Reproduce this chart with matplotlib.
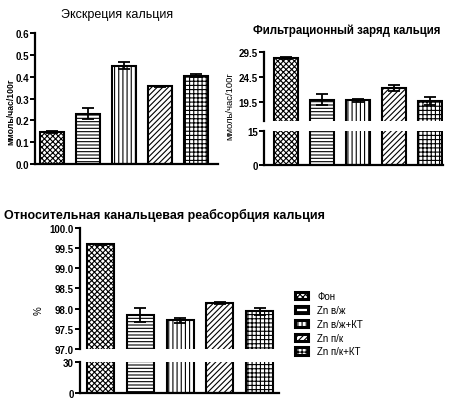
import numpy as np
import matplotlib
matplotlib.use("Agg")
import matplotlib.pyplot as plt
from matplotlib.patches import Patch

plt.rcParams['font.family'] = ['Liberation Sans', 'DejaVu Sans']
plt.rcParams['hatch.linewidth'] = 0.8

groups = ["Фон", "Zn в/ж", "Zn в/ж+КТ", "Zn п/к", "Zn п/к+КТ"]
hatches = ['xxxxxx', '-----', '||||', '//////', '++++']

# Экскреция кальция
excr = [0.145, 0.23, 0.45, 0.355, 0.405]
excr_err = [0.004, 0.025, 0.015, 0.004, 0.007]

# Фильтрационный заряд кальция
filt = [28.4, 20.0, 19.9, 22.4, 19.8]
filt_err = [0.2, 1.1, 0.3, 0.6, 0.8]

# Относительная канальцевая реабсорбция
reab = [99.6, 97.85, 97.71, 98.14, 97.93]
reab_err = [0.01, 0.17, 0.06, 0.02, 0.09]

W, H = 450, 402
fig = plt.figure(figsize=(4.5, 4.02), dpi=100)

def ax_px(l, t, r, b):
    return fig.add_axes([l / W, 1 - b / H, (r - l) / W, (b - t) / H])

def style(ax, bottom=True):
    for s in ['top', 'right']:
        ax.spines[s].set_visible(False)
    ax.spines['left'].set_linewidth(1.6)
    ax.spines['bottom'].set_linewidth(1.6)
    if not bottom:
        ax.spines['bottom'].set_visible(False)
    ax.set_xticks([])
    ax.tick_params(axis='y', direction='out', length=3.5, width=1.4, labelsize=7, pad=1)
    for lab in ax.get_yticklabels():
        lab.set_fontweight('bold')

def bars(ax, vals, errs=None, width=0.68):
    x = np.arange(len(vals))
    for i in range(len(vals)):
        ax.bar(x[i], vals[i], width=width, color='white', edgecolor='black',
               hatch=hatches[i], linewidth=1.5)
    if errs is not None:
        ax.errorbar(x, vals, yerr=errs, fmt='none', ecolor='black',
                    elinewidth=1.3, capsize=4.5, capthick=1.3)

# chart 1
ax1 = ax_px(35, 34, 218, 165)
bars(ax1, excr, excr_err, width=0.67)
ax1.set_ylim(0, 0.6)
ax1.set_yticks(np.arange(0, 0.61, 0.1))
ax1.set_yticklabels(['%.1f' % v for v in np.arange(0, 0.61, 0.1)])
ax1.set_xlim(-0.47, 4.61)
style(ax1)
fig.text(117 / W, 1 - 15 / H, "Экскреция кальция", ha='center', va='center', fontsize=9)
fig.text(11 / W, 1 - 112 / H, "ммоль/час/100г", rotation=90, ha='center', va='center',
         fontsize=6.2, fontweight='bold')

# chart 2 (broken axis)
ax2t = ax_px(264, 53, 443, 122)
bars(ax2t, filt, filt_err, width=0.69)
ax2t.set_ylim(15.7, 29.5)
ax2t.set_yticks([19.5, 24.5, 29.5])
ax2t.set_yticklabels(['19.5', '24.5', '29.5'])
ax2t.set_xlim(-0.61, 4.36)
style(ax2t, bottom=False)

ax2b = ax_px(264, 132, 443, 166)
bars(ax2b, filt, width=0.69)
ax2b.set_ylim(0, 15)
ax2b.set_yticks([0, 15])
ax2b.set_yticklabels(['0', '15'])
ax2b.set_xlim(-0.61, 4.36)
style(ax2b)
fig.text(347 / W, 1 - 31 / H, "Фильтрационный заряд кальция", ha='center', va='center',
         fontsize=8.3, fontweight='bold')
fig.text(230 / W, 1 - 106 / H, "ммоль/час/100г", rotation=90, ha='center', va='center',
         fontsize=6.8)

# chart 3 (broken axis)
ax3t = ax_px(80, 229, 279, 350)
bars(ax3t, reab, reab_err, width=0.68)
ax3t.set_ylim(97.0, 100.0)
ax3t.set_yticks(np.arange(97.0, 100.01, 0.5))
ax3t.set_yticklabels(['%.1f' % v for v in np.arange(97.0, 100.01, 0.5)])
ax3t.set_xlim(-0.52, 4.49)
style(ax3t, bottom=False)

ax3b = ax_px(80, 363, 279, 394)
bars(ax3b, reab, width=0.68)
ax3b.set_ylim(0, 30)
ax3b.set_yticks([0, 30])
ax3b.set_yticklabels(['0', '30'])
ax3b.set_xlim(-0.52, 4.49)
style(ax3b)
fig.text(4 / W, 1 - 215 / H, "Относительная канальцевая реабсорбция кальция", ha='left',
         va='center', fontsize=9, fontweight='bold')
fig.text(39 / W, 1 - 311 / H, "%", rotation=90, ha='center', va='center', fontsize=7)

# legend
handles = [Patch(facecolor='white', edgecolor='black', hatch=hatches[i], linewidth=2.2)
           for i in range(len(groups))]
fig.legend(handles, groups, loc='upper left', bbox_to_anchor=(290 / W, 1 - 287 / H),
           frameon=False, fontsize=7, handlelength=1.3, handleheight=0.75,
           labelspacing=0.4, handletextpad=1.0, borderpad=0)

fig.savefig("out.png", dpi=100)
